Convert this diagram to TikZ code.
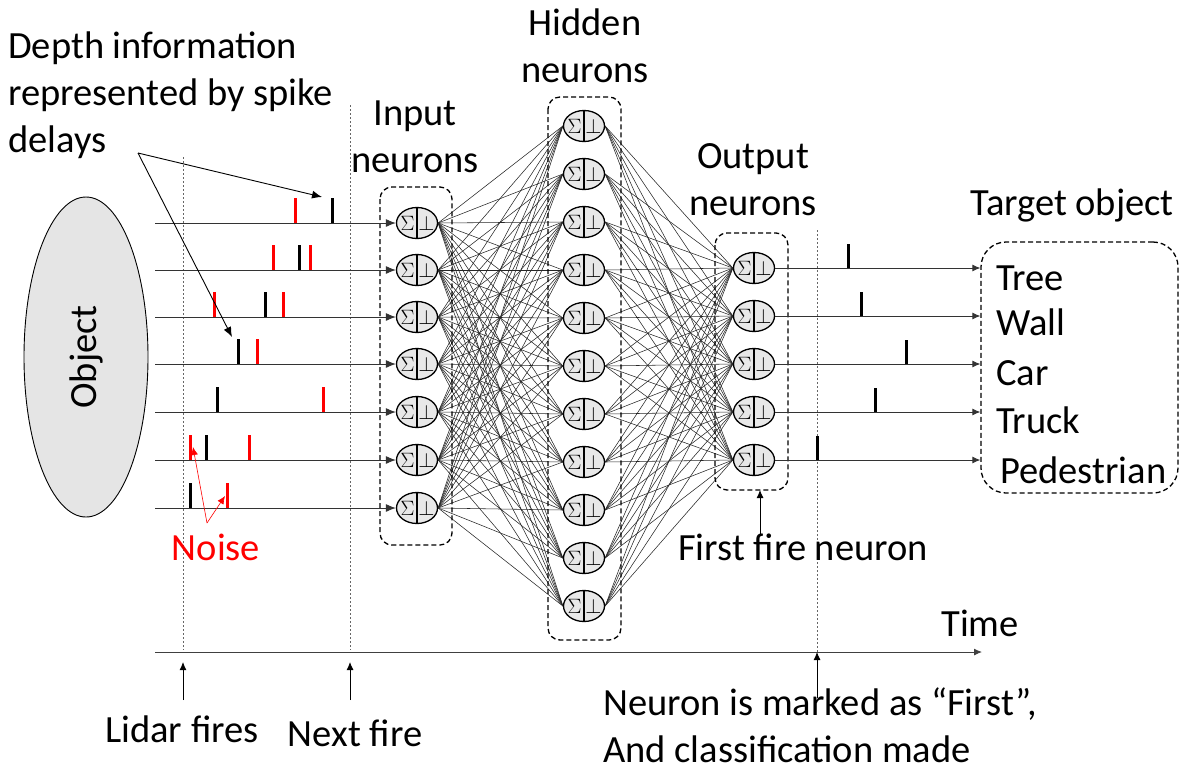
\documentclass[tikz,border=0pt]{standalone}
\usepackage{fontspec}
\setmainfont{Carlito}
\usetikzlibrary{arrows.meta,shapes.geometric}
\newcommand\mlines[2]{\begin{tabular}[t]{@{}#1@{}}#2\end{tabular}}
\newcommand\ndeco[1]{%
  \draw[line width=1.3pt] (#1.north) -- (#1.south);
  \node[font=\fontsize{22}{22}\selectfont,inner sep=0pt] at ([xshift=-9.5pt,yshift=-0.5pt]#1.center) {$\Sigma$};
  \node[font=\fontsize{22}{22}\selectfont,inner sep=0pt] at ([xshift=9.5pt,yshift=-0.5pt]#1.center) {$\perp$};}
\begin{document}
\begin{tikzpicture}[x=1pt,y=-1pt,
  neuron/.style={ellipse,draw,fill=gray!18,line width=1.3pt,minimum width=41pt,minimum height=31pt,inner sep=0pt},
  lbl/.style={font=\fontsize{38.5}{47}\selectfont,inner sep=0pt},
  spk/.style={line width=3pt},
  conn/.style={line width=0.55pt,black!85},
  dbox/.style={draw,dash pattern=on 5pt off 3pt,line width=1.3pt,rounded corners=12pt},
  guide/.style={black!60,dash pattern=on 2pt off 2pt,line width=0.8pt},
  arr/.style={-{Latex[length=10pt,width=8pt]},line width=0.9pt},
  arrs/.style={-{Latex[length=8pt,width=7pt]},line width=0.9pt},
]
\useasboundingbox (0,0) rectangle (1182,772);

% guides
\draw[guide] (183,157) -- (183,650);
\draw[guide] (350,105) -- (350,650);
\draw[guide] (817,230) -- (817,655);

% object
\node[ellipse,draw,fill=gray!20,line width=0.9pt,rotate=90,minimum width=320pt,minimum height=124pt,lbl] (obj) at (86,357) {Object};

% neurons
\foreach \i/\y in {1/223,2/270,3/317,4/364,5/412,6/460,7/508}{
  \node[neuron] (I\i) at (417,\y) {};
  \coordinate (a\i) at (155,\y);
}
\foreach \j in {1,...,11}{
  \node[neuron] (H\j) at (584,{126+48*(\j-1)}) {};
}
\foreach \k in {1,...,5}{
  \node[neuron] (O\k) at (754,{268+48*(\k-1)}) {};
}

% connections
\foreach \i in {1,...,7}{\foreach \j in {1,...,11}{\draw[conn] (I\i.east) -- (H\j.west);}}
\foreach \j in {1,...,11}{\foreach \k in {1,...,5}{\draw[conn] (H\j.east) -- (O\k.west);}}

\foreach \i in {1,...,7}{\ndeco{I\i}}
\foreach \j in {1,...,11}{\ndeco{H\j}}
\foreach \k in {1,...,5}{\ndeco{O\k}}

% boxes
\draw[dbox] (380,187) rectangle (452,545);
\draw[dbox] (548,97) rectangle (621,640);
\draw[dbox] (715,233) rectangle (788,490);
\node[dbox,rounded corners=25pt,minimum width=197pt,minimum height=251pt] (T) at (1079.5,367.5) {};

% input lines
\foreach \i in {1,...,7}{\draw[arr,black!80] (a\i) -- (I\i.west);}
% output lines
\foreach \k in {1,...,5}{\draw[arrs,black!80] (O\k.east) -- (O\k.east -| T.west);}

% input spikes
\foreach \x/\y/\c in {295/223/red,332/223/black,273/270/red,299/270/black,310/270/red,
  214/317/red,265/317/black,283/317/red,238/364/black,257/364/red,217/412/black,323/412/red,
  190/460/red,206/460/black,249/460/red,190/508/black,227/508/red}{
  \draw[spk,\c] (\x,\y) -- (\x,\y-25);
}
% output spikes
\foreach \x/\y in {848/268,861/316,906/364,875/412,817/460}{
  \draw[spk] (\x,\y) -- (\x,\y-24);
}

% time axis
\coordinate (t0) at (155,652);
\coordinate (t1) at (982,652);
\draw[arrs,black!75] (t0) -- (t1);
\coordinate (u1a) at (183,700); \coordinate (u1b) at (183,662);
\coordinate (u2a) at (350,700); \coordinate (u2b) at (350,662);
\coordinate (u3a) at (817,698); \coordinate (u3b) at (817,652);
\draw[arrs] (u1a) -- (u1b);
\draw[arrs] (u2a) -- (u2b);
\draw[arrs] (u3a) -- (u3b);

% first fire arrow
\coordinate (ff0) at (760,535); \coordinate (ff1) at (760,490);
\draw[arrs] (ff0) -- (ff1);

% depth arrows
\coordinate (d0) at (138,153);
\coordinate (d1) at (322,197);
\coordinate (d2) at (232,337);
\draw[arr] (d0) -- (d1);
\draw[arr] (d0) -- (d2);

% noise arrows
\coordinate (n0) at (207,523);
\coordinate (n1) at (193,447);
\coordinate (n2) at (225,496);
\draw[arrs,red,line width=0.6pt] (n0) -- (n1);
\draw[arrs,red,line width=0.6pt] (n0) -- (n2);

% labels
\node[lbl,anchor=base west] (depth) at (8,58) {\mlines{l}{Depth information\\represented by spike\\delays}};
\node[lbl,anchor=base] (hid) at (585,35) {\mlines{c}{Hidden\\neurons}};
\node[lbl,anchor=base] (inp) at (415,125) {\mlines{c}{Input\\neurons}};
\node[lbl,anchor=base] (outp) at (753,168) {\mlines{c}{Output\\neurons}};
\node[lbl,anchor=base] (tgt) at (1072,215) {Target object};
\node[lbl,anchor=base west] (c1) at (996,290) {Tree};
\node[lbl,anchor=base west] (c2) at (996,335) {Wall};
\node[lbl,anchor=base west] (c3) at (996,385) {Car};
\node[lbl,anchor=base west] (c4) at (996,433) {Truck};
\node[lbl,anchor=base west] (c5) at (1000,483) {Pedestrian};
\node[lbl,anchor=base,red] (noise) at (216,560) {Noise};
\node[lbl,anchor=base] (ffn) at (803,560) {First fire neuron};
\node[lbl,anchor=base] (time) at (980,636) {Time};
\node[lbl,anchor=base] (lid) at (182,742) {Lidar fires};
\node[lbl,anchor=base] (nxt) at (355,746) {Next fire};
\node[lbl,anchor=south west,align=left] (mk) at (603,763) {Neuron is marked as “First”,\\And classification made};
\end{tikzpicture}
\end{document}
